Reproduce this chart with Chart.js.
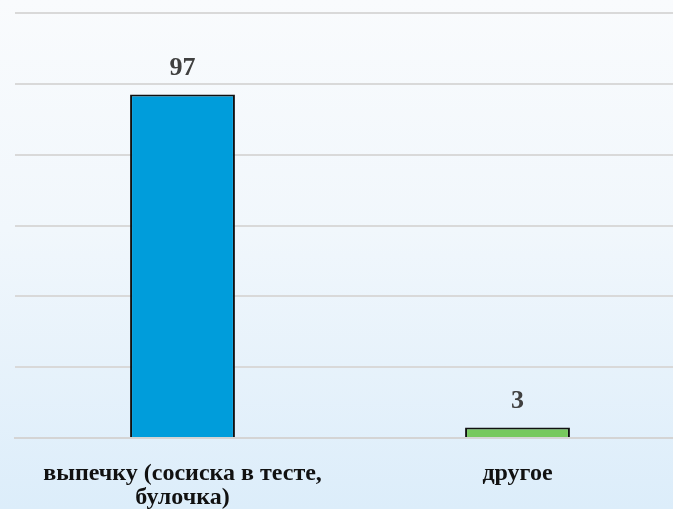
<!DOCTYPE html>
<html>
<head>
<meta charset="utf-8">
<script src="https://cdn.jsdelivr.net/npm/chart.js@4"></script>
<style>
  html, body { margin: 0; padding: 0; }
  body { width: 673px; height: 509px; overflow: hidden;
         background: linear-gradient(to bottom, #f9fbfd 0%, #f1f7fc 45%, #dcedfa 100%); }
  #wrap { width: 690px; height: 509px; }
</style>
</head>
<body>
<div id="wrap"><canvas id="grafico" width="690" height="509"></canvas></div>
<script>
const categorias = [['выпечку (сосиска в тесте,', 'булочка)'], 'другое'];
const valores = [97, 3];
const cores = ['#009ddb', '#77c95e'];

// rótulos de valor acima das barras
const rotulos = {
  id: 'rotulos',
  afterDatasetsDraw(chart) {
    const c = chart.ctx;
    const meta = chart.getDatasetMeta(0);
    c.save();
    c.font = 'bold 26px "Liberation Serif", "Times New Roman", serif';
    c.fillStyle = '#404040';
    c.textAlign = 'center';
    c.textBaseline = 'middle';
    meta.data.forEach((bar, i) => {
      c.fillText(String(valores[i]), bar.x, bar.y - 26);
    });
    c.restore();
  }
};

const ctx = document.getElementById('grafico').getContext('2d');
new Chart(ctx, {
  type: 'bar',
  data: {
    labels: categorias,
    datasets: [{
      data: valores,
      backgroundColor: cores,
      borderColor: '#111',
      borderWidth: 2,
      borderSkipped: 'bottom',
      barPercentage: 1,
      categoryPercentage: 0.313
    }]
  },
  options: {
    responsive: false,
    animation: false,
    layout: { padding: { left: 15, top: 13, right: 5, bottom: 0 } },
    plugins: { legend: { display: false }, tooltip: { enabled: false } },
    scales: {
      x: {
        grid: { display: false },
        border: { display: true, color: '#d4d4d4', width: 2 },
        ticks: {
          color: '#111',
          padding: 16,
          maxRotation: 0,
          autoSkip: false,
          font: { family: '"Liberation Serif", "Times New Roman", serif', size: 24, weight: 'bold', lineHeight: 1.0 }
        },
        afterFit(s) { s.height = 71; }
      },
      y: {
        min: 0,
        max: 120,
        ticks: { stepSize: 20, display: false },
        border: { display: false },
        grid: { color: '#d9d9d9', lineWidth: 2, drawTicks: false },
        afterFit(s) { s.width = 0; }
      }
    }
  },
  plugins: [rotulos]
});
</script>
</body>
</html>
